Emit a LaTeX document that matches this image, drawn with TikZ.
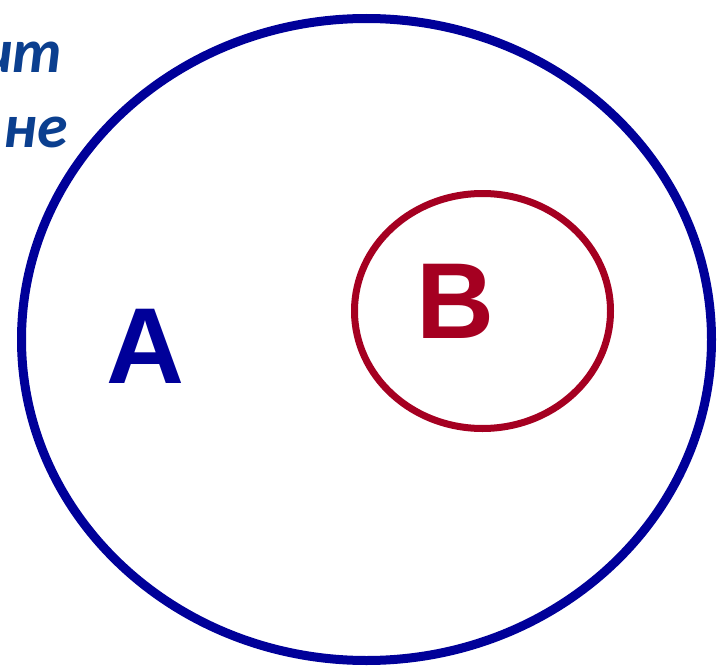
\documentclass[tikz,border=0pt]{standalone}
\usepackage{fontspec}
\setmainfont{Liberation Sans}
\newfontfamily\cyrfont{Carlito}
\definecolor{setblue}{HTML}{000099}
\definecolor{setred}{HTML}{A50021}
\definecolor{txtblue}{HTML}{0B3F8F}
\begin{document}
\begin{tikzpicture}[x=1pt,y=-1pt,
  bigset/.style={draw=setblue,line width=9pt},
  smallset/.style={draw=setred,line width=7pt},
  setlabel/.style={font=\fontsize{108}{108}\selectfont\bfseries,inner sep=0pt},
  cuttext/.style={font=\cyrfont\fontsize{62}{62}\selectfont\bfseries\itshape,text=txtblue,inner sep=0pt,anchor=base east}]
\useasboundingbox (0,0) rectangle (718,669);
\clip (0,0) rectangle (718,669);
\node[cuttext] (t1) at (63,73) {ит};
\node[cuttext] (t2) at (68,147) {не};
\draw[bigset] (366.5,339.5) ellipse [x radius=345, y radius=321];
\draw[smallset] (482.5,311) ellipse [x radius=128, y radius=117.5];
\node[setlabel,text=setblue] (A) at (145,346) {A};
\node[setlabel,text=setred] (B) at (455,301) {B};
\end{tikzpicture}
\end{document}
